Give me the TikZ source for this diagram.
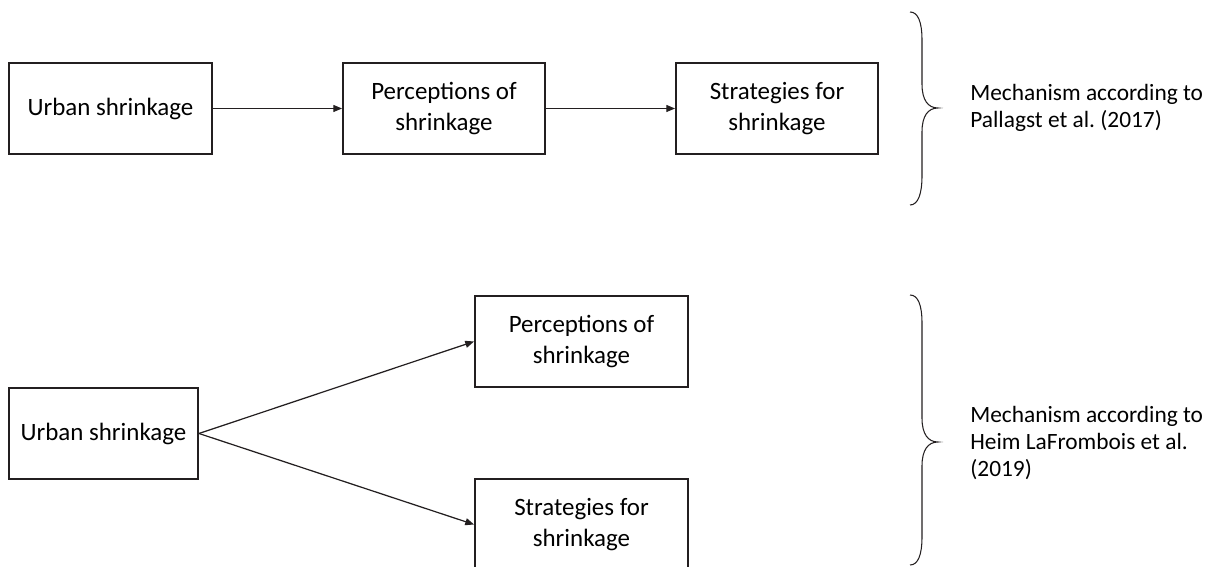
\documentclass[tikz,border=0pt]{standalone}
\usepackage{fontspec}
\setmainfont{Carlito}
\usetikzlibrary{arrows.meta}
\definecolor{inkgray}{HTML}{231F20}

\begin{document}
\frenchspacing
\begin{tikzpicture}[x=0.02cm,y=-0.02cm,
  stage/.style={draw=inkgray,line width=1.1pt,minimum height=1.82cm,inner sep=0pt,align=center,font=\fontsize{14.2}{17.4}\selectfont},
  link/.style={draw=inkgray,line width=0.7pt,-{Triangle[length=5pt,width=4pt]}},
  note/.style={anchor=west,align=left,inner sep=0pt,font=\fontsize{13.3}{15.4}\selectfont}]
  \useasboundingbox (0,0) rectangle (1205,567);
  \clip (0,0) rectangle (1205,567);
  \node[stage,minimum width=4.06cm] (urbanA) at (110.5,108.5) {Urban shrinkage};
  \node[stage,minimum width=4.04cm] (percA) at (444,108.5) {Perceptions of\\shrinkage};
  \node[stage,minimum width=4.04cm] (stratA) at (777,108.5) {Strategies for\\shrinkage};
  \draw[link] (urbanA) -- (percA);
  \draw[link] (percA) -- (stratA);
  \draw[inkgray,line width=0.6pt] (910,12) .. controls (918,12) and (922,22) .. (922,40) -- (922,84)
    .. controls (922,100) and (928,108) .. (938,108) .. controls (928,108) and (922,116) .. (922,132)
    -- (922,176) .. controls (922,194) and (918,205) .. (910,205);
  \node[note] (mechA) at (970,108) {Mechanism according to\\Pallagst et al. (2017)};
  \node[stage,minimum width=3.78cm] (urbanB) at (103.5,433.5) {Urban shrinkage};
  \node[stage,minimum width=4.26cm] (percB) at (581.5,341.5) {Perceptions of\\shrinkage};
  \node[stage,minimum width=4.26cm] (stratB) at (581.5,524.5) {Strategies for\\shrinkage};
  \draw[link] (urbanB.east) -- (percB.west);
  \draw[link] (urbanB.east) -- (stratB.west);
  \draw[inkgray,line width=0.6pt] (910,295) .. controls (918,295) and (922,305) .. (922,323) -- (922,418)
    .. controls (922,434) and (928,442) .. (938,442) .. controls (928,442) and (922,450) .. (922,466)
    -- (922,537) .. controls (922,555) and (918,565) .. (910,565);
  \node[note] (mechB) at (970,443) {Mechanism according to\\Heim LaFrombois et al.\\(2019)};
\end{tikzpicture}
\end{document}
